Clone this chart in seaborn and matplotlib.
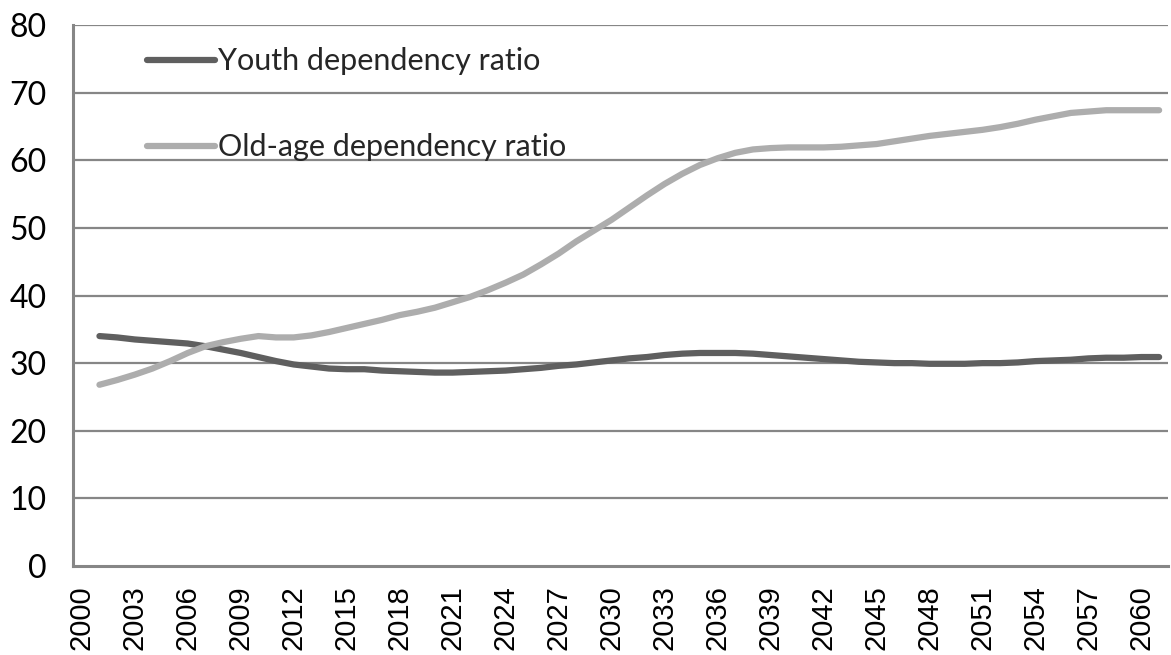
import numpy as np
import pandas as pd
import matplotlib
matplotlib.use("Agg")
import matplotlib.pyplot as plt
import seaborn as sns

# Years covered by the projection
years = list(range(2001, 2062))

youth_ratio = [
    34.0, 33.8, 33.5, 33.3, 33.1, 32.9, 32.5, 32.0, 31.5, 30.9,
    30.3, 29.8, 29.5, 29.2, 29.1, 29.1, 28.9, 28.8, 28.7, 28.6,
    28.6, 28.7, 28.8, 28.9, 29.1, 29.3, 29.6, 29.8, 30.1, 30.4,
    30.7, 30.9, 31.2, 31.4, 31.5, 31.5, 31.5, 31.4, 31.2, 31.0,
    30.8, 30.6, 30.4, 30.2, 30.1, 30.0, 30.0, 29.9, 29.9, 29.9,
    30.0, 30.0, 30.1, 30.3, 30.4, 30.5, 30.7, 30.8, 30.8, 30.9,
    30.9,
]

old_age_ratio = [
    26.8, 27.5, 28.3, 29.2, 30.3, 31.5, 32.5, 33.1, 33.6, 34.0,
    33.8, 33.8, 34.1, 34.6, 35.2, 35.8, 36.4, 37.1, 37.6, 38.2,
    39.0, 39.8, 40.8, 41.9, 43.1, 44.6, 46.2, 48.0, 49.6, 51.2,
    53.0, 54.8, 56.5, 58.0, 59.3, 60.3, 61.1, 61.6, 61.8, 61.9,
    61.9, 61.9, 62.0, 62.2, 62.4, 62.8, 63.2, 63.6, 63.9, 64.2,
    64.5, 64.9, 65.4, 66.0, 66.5, 67.0, 67.2, 67.4, 67.4, 67.4,
    67.4,
]

series_names = ["Youth dependency ratio", "Old-age dependency ratio"]
series_colors = ["#5f5f5f", "#adadad"]

tick_years = list(range(2000, 2061, 3))
y_ticks = list(range(0, 81, 10))

df = pd.DataFrame({
    "year": years * 2,
    "ratio": youth_ratio + old_age_ratio,
    "series": [series_names[0]] * len(years) + [series_names[1]] * len(years),
})

sns.set_theme(style="white")
plt.rcParams["font.family"] = ["Lato", "DejaVu Sans"]

fig = plt.figure(figsize=(11.71, 6.55), dpi=100)
ax = fig.add_axes([0.0623, 0.1359, 0.9351, 0.8259])

grid_col = "#868686"
for v in y_ticks[1:]:
    ax.axhline(v, color=grid_col, lw=1.6, zorder=0)

sns.lineplot(
    data=df, x="year", y="ratio", hue="series",
    palette=dict(zip(series_names, series_colors)),
    linewidth=4.5, ax=ax, legend=False,
    solid_capstyle="round", solid_joinstyle="round",
)

ax.set_xlim(1999.5, 2061.5)
ax.set_ylim(0, 80)
ax.set_xlabel("")
ax.set_ylabel("")

ax.set_yticks(y_ticks)
ax.set_yticklabels([str(v) for v in y_ticks], fontsize=23, color="black")
ax.set_xticks(tick_years)
ax.set_xticklabels([str(v) for v in tick_years], rotation=90, fontsize=21,
                   color="black", family=["Liberation Sans", "DejaVu Sans"])
ax.tick_params(axis="y", length=0, pad=19)
ax.tick_params(axis="x", length=0, pad=14)

for side in ["top", "right"]:
    ax.spines[side].set_visible(False)
for side in ["left", "bottom"]:
    ax.spines[side].set_color(grid_col)
    ax.spines[side].set_linewidth(2.2)

handles = [plt.Line2D([], [], color=c, lw=4.5, solid_capstyle="round") for c in series_colors]
ax.legend(
    handles, series_names, loc="upper left", bbox_to_anchor=(0.068, 0.959),
    frameon=False, fontsize=22, handlelength=2.2, handletextpad=0.12,
    labelspacing=1.9, borderpad=0, borderaxespad=0,
)

fig.savefig("out.png", dpi=100, facecolor="white")
